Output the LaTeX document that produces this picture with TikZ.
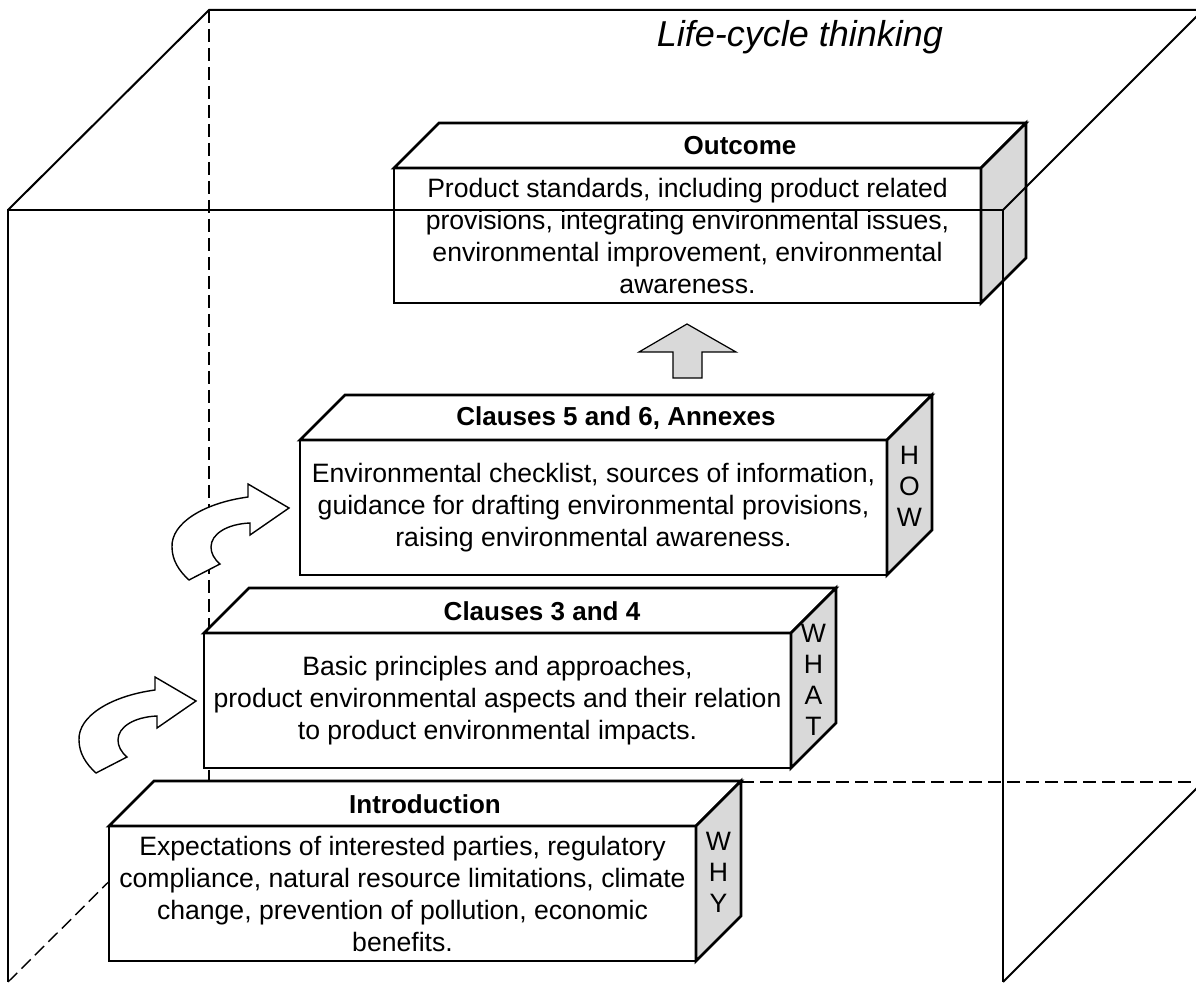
\documentclass[tikz,border=0pt]{standalone}
\usepackage{fontspec}
\setmainfont{Liberation Sans}
\usetikzlibrary{calc}
\definecolor{sidegray}{RGB}{217,217,217}
\begin{document}
\begin{tikzpicture}[x=0.5pt,y=-0.5pt,
  front/.style={draw, line width=1.35pt, fill=white, minimum width=293.5pt, minimum height=67.5pt,
    inner sep=0pt, outer sep=0pt, align=center, anchor=north west,
    font=\fontsize{13.3}{16}\selectfont},
  topface/.style={draw, line width=1.35pt, fill=white, line join=miter},
  sideface/.style={draw, line width=1.35pt, fill=sidegray, line join=miter},
  boxtitle/.style={font=\bfseries\fontsize{13}{16}\selectfont, inner sep=0pt},
  sidetext/.style={font=\fontsize{13.3}{15.5}\selectfont, align=center, inner sep=0pt},
  cube/.style={line width=1pt},
  hidden/.style={line width=0.7pt, dash pattern=on 6.5pt off 3pt},
  curvedarrow/.style={draw, line width=0.7pt, fill=white, line join=miter},
  uparrow/.style={draw, line width=0.6pt, fill=sidegray, line join=miter},
]
\useasboundingbox (0,0) rectangle (1196,983);
\clip (0,0) rectangle (1196,983);

% corners of the surrounding cube
\coordinate (FTL) at (8,210);
\coordinate (FTR) at (1003,210);
\coordinate (FBL) at (8,982);
\coordinate (FBR) at (1003,982);
\coordinate (BTL) at (209,10);
\coordinate (BTR) at (1203,10);
\coordinate (BBL) at (209,782);
\coordinate (BBR) at (1203,782);

% hidden edges
\draw[hidden] (BTL) -- (BBL);
\draw[hidden] (BBL) -- (BBR);
\draw[hidden] (FBL) -- (BBL);

% #1 name, #2 x, #3 y, #4 title, #5 title x shift, #6 body, #7 side letters
\newcommand{\threedbox}[7]{%
  \node[front] (#1) at (#2,#3) {#6};
  \draw[topface] (#1.north west) -- ++(45,-45) -- ++(587,0) -- (#1.north east) -- cycle;
  \draw[sideface] (#1.north east) -- ++(45,-45) -- ++(0,135) -- (#1.south east) -- cycle;
  \node[boxtitle] (#1-title) at ($(#1.north)+(22.5+#5,-22)$) {#4};
  \node[sidetext] (#1-side) at ($(#1.east)+(22.5,-21)$) {#7};
}

\threedbox{intro}{109}{826}{Introduction}{0}{Expectations of interested parties, regulatory\\compliance, natural resource limitations, climate\\change, prevention of pollution, economic\\benefits.}{W\\H\\Y}
\threedbox{what}{204}{633}{Clauses 3 and 4}{22}{Basic principles and approaches,\\product environmental aspects and their relation\\to product environmental impacts.}{W\\H\\A\\T}
\threedbox{how}{300}{440}{Clauses 5 and 6, Annexes}{0}{Environmental checklist, sources of information,\\guidance for drafting environmental provisions,\\raising environmental awareness.}{H\\O\\W}
\threedbox{outcome}{394}{168}{Outcome}{30}{Product standards, including product related\\provisions, integrating environmental issues,\\environmental improvement, environmental\\awareness.}{}

% curved arrows
\coordinate (arrowA) at (196,701);
\coordinate (arrowB) at (289,508);
\foreach \c in {arrowA,arrowB}{
  \begin{scope}[shift={(\c)}]
    \draw[curvedarrow] (0,0) -- (-41,-24) -- (-41,-11)
      .. controls (-85,-5) and (-118,15) .. (-117,39)
      .. controls (-117,52) and (-110,63) .. (-100,72)
      -- (-69,56)
      .. controls (-75,51) and (-78,45) .. (-78,39)
      .. controls (-78,26) and (-62,16) .. (-39,15)
      -- (-39,27) -- cycle;
  \end{scope}
}

% up arrow
\coordinate (uptip) at (687,324);
\draw[uparrow] (uptip) -- (736,352) -- (702,352) -- (702,378) -- (673,378) -- (673,352) -- (639,352) -- cycle;

% visible edges of the cube
\draw[cube] (FBL) -- (FTL) -- (FTR) -- (FBR);
\draw[cube] (FTL) -- (BTL) -- (BTR);
\draw[cube] (FTR) -- (BTR);
\draw[cube] (FBR) -- (BBR);

\node[font=\itshape\fontsize{18}{20}\selectfont, inner sep=0pt] (lct) at (800,37) {Life-cycle thinking};
\end{tikzpicture}
\end{document}
